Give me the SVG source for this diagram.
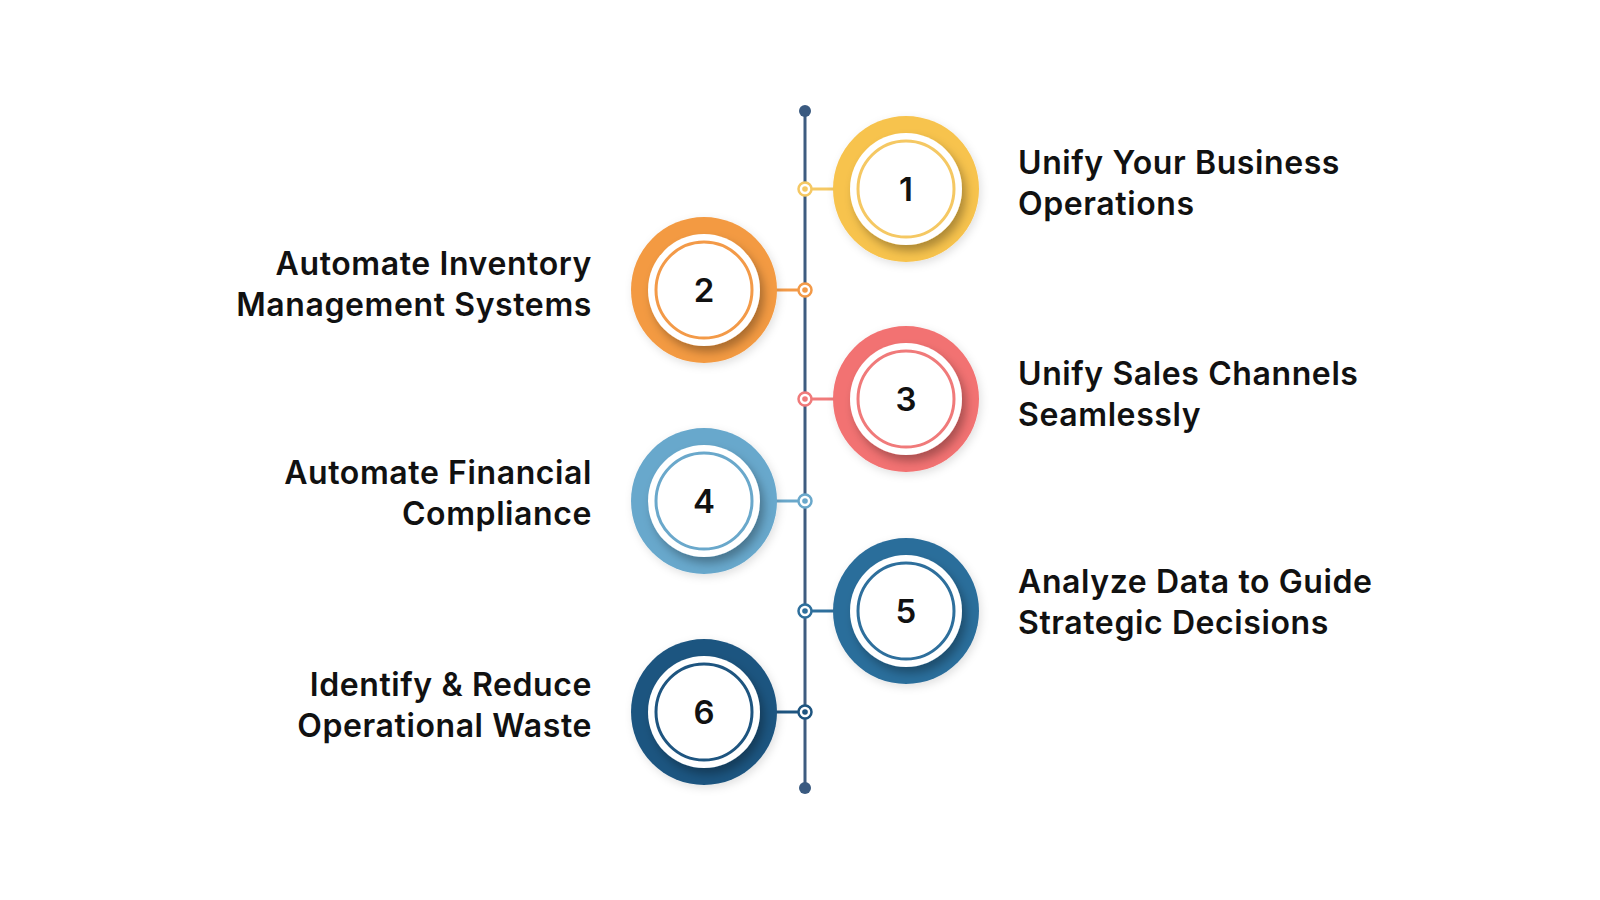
<svg xmlns="http://www.w3.org/2000/svg" width="1600" height="900" viewBox="0 0 1600 900">
<defs>
<filter id="sh" x="-30%" y="-30%" width="170%" height="170%">
<feDropShadow dx="4" dy="6" stdDeviation="5" flood-color="#000" flood-opacity="0.3"/>
</filter>
<filter id="osh" x="-30%" y="-30%" width="170%" height="170%">
<feDropShadow dx="2" dy="3" stdDeviation="4" flood-color="#000" flood-opacity="0.12"/>
</filter>
</defs>
<style>
.lbl{font-family:Inter,"Noto Sans","Liberation Sans",sans-serif;font-weight:600;font-size:32px;letter-spacing:0.6px;fill:#111}
.num{font-family:Inter,"Noto Sans","Liberation Sans",sans-serif;font-weight:600;font-size:33px;fill:#111;text-anchor:middle}
.disc{fill:#fff;filter:url(#sh)}
.ring{fill:none;stroke-width:3}
.end{text-anchor:end}
</style>
<rect width="1600" height="900" fill="#fff"/>
<g id="connectors">
<line x1="805" y1="111" x2="805" y2="788" stroke="#3E5C80" stroke-width="3"/>
<circle cx="805" cy="111" r="6" fill="#3A5A80"/>
<circle cx="805" cy="788" r="6" fill="#3A5A80"/>
<line x1="805" y1="189" x2="835" y2="189" stroke="#F5C863" stroke-width="3"/>
<line x1="775" y1="290" x2="805" y2="290" stroke="#F39A48" stroke-width="3"/>
<line x1="805" y1="399" x2="835" y2="399" stroke="#F07A7A" stroke-width="3"/>
<line x1="775" y1="501" x2="805" y2="501" stroke="#6AA8CB" stroke-width="3"/>
<line x1="805" y1="611" x2="835" y2="611" stroke="#2E6F9C" stroke-width="3"/>
<line x1="775" y1="712" x2="805" y2="712" stroke="#1E5580" stroke-width="3"/>
<g stroke-width="2.5" fill="#fff">
<circle cx="805" cy="189" r="6.5" stroke="#F5C863"/><circle cx="805" cy="189" r="2.8" fill="#F5C863" stroke="none"/>
<circle cx="805" cy="290" r="6.5" stroke="#F39A48"/><circle cx="805" cy="290" r="2.8" fill="#F39A48" stroke="none"/>
<circle cx="805" cy="399" r="6.5" stroke="#F07A7A"/><circle cx="805" cy="399" r="2.8" fill="#F07A7A" stroke="none"/>
<circle cx="805" cy="501" r="6.5" stroke="#6AA8CB"/><circle cx="805" cy="501" r="2.8" fill="#6AA8CB" stroke="none"/>
<circle cx="805" cy="611" r="6.5" stroke="#2E6F9C"/><circle cx="805" cy="611" r="2.8" fill="#2E6F9C" stroke="none"/>
<circle cx="805" cy="712" r="6.5" stroke="#1E5580"/><circle cx="805" cy="712" r="2.8" fill="#1E5580" stroke="none"/>
</g>
</g>
<g id="node1">
<circle cx="906" cy="189" r="73" fill="#F7C34E" filter="url(#osh)"/>
<circle class="disc" cx="906" cy="189" r="56"/>
<circle class="ring" cx="906" cy="189" r="48" stroke="#F5C863"/>
<text class="num" x="906" y="201">1</text>
<text class="lbl" x="1018" y="174">Unify Your Business</text>
<text class="lbl" x="1018" y="215">Operations</text>
</g>
<g id="node2">
<circle cx="704" cy="290" r="73" fill="#F39A42" filter="url(#osh)"/>
<circle class="disc" cx="704" cy="290" r="56"/>
<circle class="ring" cx="704" cy="290" r="48" stroke="#F39A48"/>
<text class="num" x="704" y="302">2</text>
<text class="lbl end" x="592" y="275">Automate Inventory</text>
<text class="lbl end" x="592" y="316">Management Systems</text>
</g>
<g id="node3">
<circle cx="906" cy="399" r="73" fill="#F27272" filter="url(#osh)"/>
<circle class="disc" cx="906" cy="399" r="56"/>
<circle class="ring" cx="906" cy="399" r="48" stroke="#F07A7A"/>
<text class="num" x="906" y="411">3</text>
<text class="lbl" x="1018" y="385">Unify Sales Channels</text>
<text class="lbl" x="1018" y="426">Seamlessly</text>
</g>
<g id="node4">
<circle cx="704" cy="501" r="73" fill="#68A8CC" filter="url(#osh)"/>
<circle class="disc" cx="704" cy="501" r="56"/>
<circle class="ring" cx="704" cy="501" r="48" stroke="#6AA8CB"/>
<text class="num" x="704" y="513">4</text>
<text class="lbl end" x="592" y="484">Automate Financial</text>
<text class="lbl end" x="592" y="525">Compliance</text>
</g>
<g id="node5">
<circle cx="906" cy="611" r="73" fill="#2C6E9B" filter="url(#osh)"/>
<circle class="disc" cx="906" cy="611" r="56"/>
<circle class="ring" cx="906" cy="611" r="48" stroke="#2E6F9C"/>
<text class="num" x="906" y="623">5</text>
<text class="lbl" x="1018" y="593">Analyze Data to Guide</text>
<text class="lbl" x="1018" y="634">Strategic Decisions</text>
</g>
<g id="node6">
<circle cx="704" cy="712" r="73" fill="#1D5580" filter="url(#osh)"/>
<circle class="disc" cx="704" cy="712" r="56"/>
<circle class="ring" cx="704" cy="712" r="48" stroke="#1E5580"/>
<text class="num" x="704" y="724">6</text>
<text class="lbl end" x="592" y="696">Identify &amp; Reduce</text>
<text class="lbl end" x="592" y="737">Operational Waste</text>
</g>
</svg>
